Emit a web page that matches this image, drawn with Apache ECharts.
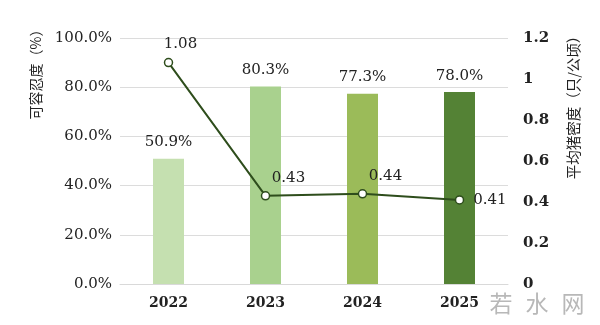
<!DOCTYPE html>
<html><head><meta charset="utf-8">
<script src="https://cdn.jsdelivr.net/npm/echarts@6/dist/echarts.min.js"></script>
<style>html,body{margin:0;padding:0;background:#fff}#c{width:600px;height:325px}</style>
</head><body><div id="c"></div>
<script>
const categories = ['2022', '2023', '2024', '2025'];
const tolerance = [50.9, 80.3, 77.3, 78.0];
const density = [1.08, 0.43, 0.44, 0.41];
const barColors = ['#c5e0b0', '#a9d18e', '#9bbb59', '#548235'];
const leftName = '可容忍度（%）';
const rightName = '平均猪密度（只/公顷）';
const watermark = ['若', '水', '网'];

const serif = '"DejaVu Serif", "Liberation Serif", "Noto Sans CJK SC", serif';
// label placement for each line point
const lineLabelPos = [
  { position: 'top', distance: 6, offset: [12, 0] },
  { position: 'top', distance: 5, offset: [23, 0] },
  { position: 'top', distance: 5, offset: [23, 0] },
  { position: 'right', distance: 9, offset: [0, 0] }
];
const chart = echarts.init(document.getElementById('c'));
chart.setOption({
  animation: false,
  grid: { left: 120, top: 38, width: 388, height: 246, containLabel: false },
  xAxis: {
    type: 'category', data: categories,
    axisLine: { lineStyle: { color: '#d9d9d9', width: 1 } },
    axisTick: { show: false },
    axisLabel: { color: '#222', fontFamily: serif, fontSize: 14, fontWeight: 'bold', margin: 12 }
  },
  yAxis: [{
    type: 'value', min: 0, max: 100, interval: 20,
    axisLine: { show: false }, axisTick: { show: false },
    splitLine: { lineStyle: { color: '#dcdcdc' } },
    axisLabel: { color: '#222', fontFamily: serif, fontSize: 15, margin: 8, formatter: v => v.toFixed(1) + '%' }
  }, {
    type: 'value', min: 0, max: 1.2, interval: 0.2,
    axisLine: { show: false }, axisTick: { show: false }, splitLine: { show: false },
    axisLabel: { color: '#222', fontFamily: serif, fontSize: 15, fontWeight: 'bold', margin: 15,
      formatter: v => String(Math.round(v * 10) / 10) }
  }],
  series: [{
    type: 'bar', yAxisIndex: 0, barWidth: 31,
    data: tolerance.map((v, i) => ({ value: v, itemStyle: { color: barColors[i] } })),
    label: { show: true, position: 'top', distance: 9, color: '#222', fontFamily: serif, fontSize: 15,
      formatter: p => p.value.toFixed(1) + '%' }
  }, {
    type: 'line', yAxisIndex: 1,
    data: density.map((v, i) => ({ value: v, label: lineLabelPos[i] })),
    lineStyle: { color: '#2e4d1c', width: 2 },
    symbol: 'circle', symbolSize: 8,
    itemStyle: { color: '#fff', borderColor: '#2e4d1c', borderWidth: 1.5 },
    label: { show: true, color: '#222', fontFamily: serif, fontSize: 15,
      formatter: p => p.value.toFixed(2) }
  }],
  graphic: [
    { type: 'text', x: 36, y: 71, rotation: Math.PI / 2,
      style: { text: leftName, fill: '#222', font: '14px "Noto Sans CJK SC", serif', align: 'center', verticalAlign: 'middle' } },
    { type: 'text', x: 573, y: 104, rotation: Math.PI / 2,
      style: { text: rightName, fill: '#222', font: '14.5px "Noto Sans CJK SC", serif', align: 'center', verticalAlign: 'middle' } }
  ].concat(watermark.map((t, i) => ({ type: 'text', x: 501 + i * 36, y: 303,
      style: { text: t, fill: '#b8b8b8', font: '23px "Noto Sans CJK SC", sans-serif', align: 'center', verticalAlign: 'middle' } })))
});
</script></body></html>
